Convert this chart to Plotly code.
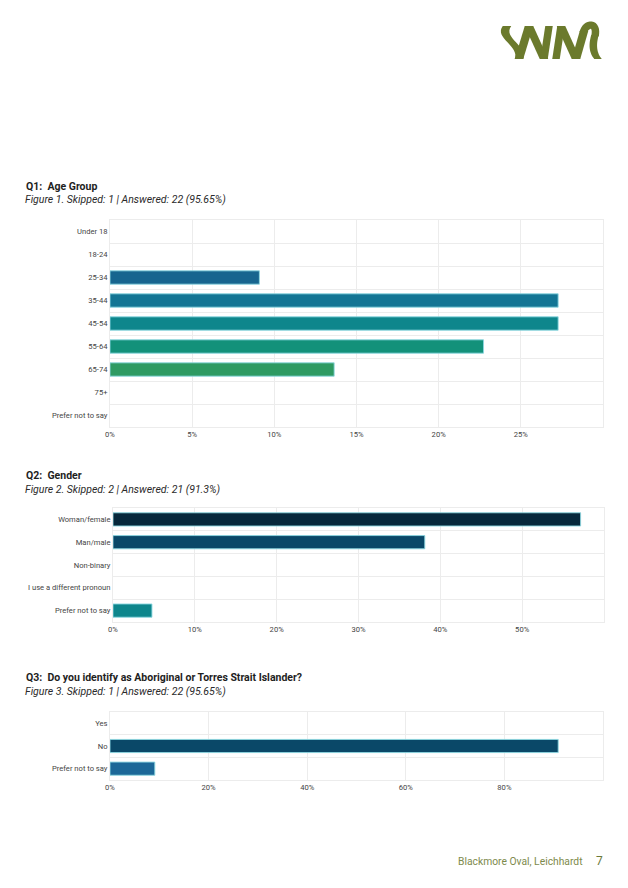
import math
import plotly.graph_objects as go

# ---------------- data ----------------
q1_categories = ["Under 18", "18-24", "25-34", "35-44", "45-54", "55-64", "65-74", "75+", "Prefer not to say"]
q1_values = [0, 0, 9.09, 27.27, 27.27, 22.73, 13.64, 0, 0]
q1_colors = ["#1a5f8c", "#1a5f8c", "#17658f", "#137594", "#0e868c", "#13917a", "#2e9a62", "#2e9a62", "#2e9a62"]
q1_ticks = [0, 5, 10, 15, 20, 25]

q2_categories = ["Woman/female", "Man/male", "Non-binary", "I use a different pronoun", "Prefer not to say"]
q2_values = [57.14, 38.10, 0, 0, 4.76]
q2_colors = ["#07283b", "#0a4868", "#0e868c", "#0e868c", "#0e868c"]
q2_ticks = [0, 10, 20, 30, 40, 50]

q3_categories = ["Yes", "No", "Prefer not to say"]
q3_values = [0, 90.91, 9.09]
q3_colors = ["#0a4868", "#0a4868", "#1c6898"]
q3_ticks = [0, 20, 40, 60, 80]

OFF = 8  # default page body margin
W, H = 628 - 2 * OFF, 888 - 2 * OFF
FONT = "Roboto, Arial, sans-serif"


def px(x):
    return (x - OFF) / W


def py(y):
    return 1 - (y - OFF) / H


fig = go.Figure()

panels = [
    (q1_categories, q1_values, q1_colors, q1_ticks, 30, (110, 603), (220, 427)),
    (q2_categories, q2_values, q2_colors, q2_ticks, 60, (113, 604), (508, 622)),
    (q3_categories, q3_values, q3_colors, q3_ticks, 100, (110, 603), (712, 780)),
]

for i, (cats, vals, cols, ticks, xmax, (x0, x1), (y0, y1)) in enumerate(panels):
    n = "" if i == 0 else str(i + 1)
    fig.add_trace(go.Bar(
        x=vals, y=cats, orientation="h",
        marker=dict(color=cols,
                    line=dict(color="rgba(140,215,225,0.9)",
                              width=[1 if v > 0 else 0 for v in vals])),
        xaxis="x" + n, yaxis="y" + n, showlegend=False, hoverinfo="x+y",
    ))
    axis_common = dict(showline=True, mirror=True, linecolor="#ececec", linewidth=1,
                       gridcolor="#ececec", gridwidth=1, zeroline=False, automargin=False,
                       tickfont=dict(family=FONT, size=7.6, color="#444"))
    fig.layout["xaxis" + n] = dict(
        axis_common, domain=[px(x0), px(x1)], range=[0, xmax],
        tickvals=ticks, ticktext=[f"{t}%" for t in ticks],
        anchor="y" + n, fixedrange=True, ticks="", ticklen=0,
    )
    fig.layout["yaxis" + n] = dict(
        axis_common, domain=[py(y1), py(y0)], type="category",
        categoryorder="array", categoryarray=cats, autorange="reversed",
        tickson="boundaries", anchor="x" + n, ticks="", ticklen=0,
        fixedrange=True,
    )

fig.update_layout(bargap=0.42)

# ---------------- text ----------------
titles = [
    ("Q1:  Age Group", "Figure 1. Skipped: 1 | Answered: 22 (95.65%)", 186, 199),
    ("Q2:  Gender", "Figure 2. Skipped: 2 | Answered: 21 (91.3%)", 475, 489),
    ("Q3:  Do you identify as Aboriginal or Torres Strait Islander?", "Figure 3. Skipped: 1 | Answered: 22 (95.65%)", 677, 691),
]
ann = []
for t, s, ty, sy in titles:
    ann.append(dict(text=f"<b>{t}</b>", x=px(24), y=py(ty), xref="paper", yref="paper",
                    xanchor="left", yanchor="middle", showarrow=False,
                    font=dict(family=FONT, size=10.5, color="#1e1e1e")))
    ann.append(dict(text=f"<i>{s}</i>", x=px(23), y=py(sy), xref="paper", yref="paper",
                    xanchor="left", yanchor="middle", showarrow=False,
                    font=dict(family=FONT, size=10.5, color="#2a2a2a")))

ann.append(dict(text="Blackmore Oval, Leichhardt", x=px(585), y=py(861), xref="paper", yref="paper",
                xanchor="right", yanchor="middle", showarrow=False,
                font=dict(family=FONT, size=10.3, color="#7d8a4c")))
ann.append(dict(text="7", x=px(605), y=py(861), xref="paper", yref="paper",
                xanchor="right", yanchor="middle", showarrow=False,
                font=dict(family=FONT, size=12, color="#6c7a3a")))

# ---------------- logo (decorative filled strokes) ----------------
def bez(p0, p1, p2, p3, n=16):
    out = []
    for k in range(n + 1):
        t = k / n
        a = (1 - t) ** 3
        b = 3 * (1 - t) ** 2 * t
        c = 3 * (1 - t) * t ** 2
        d = t ** 3
        out.append((a * p0[0] + b * p1[0] + c * p2[0] + d * p3[0],
                    a * p0[1] + b * p1[1] + c * p2[1] + d * p3[1]))
    return out


def hstroke(pts, w):
    left = [(x - w / 2, y) for x, y in pts]
    right = [(x + w / 2, y) for x, y in reversed(pts)]
    return left + right


def nstroke(pts, w):
    left, right = [], []
    for k, (x, y) in enumerate(pts):
        a = pts[max(k - 1, 0)]
        b = pts[min(k + 1, len(pts) - 1)]
        dx, dy = b[0] - a[0], b[1] - a[1]
        L = math.hypot(dx, dy) or 1
        nx, ny = -dy / L, dx / L
        left.append((x + nx * w / 2, y + ny * w / 2))
        right.append((x - nx * w / 2, y - ny * w / 2))
    return left + list(reversed(right))


def poly_path(poly):
    return "M " + " L ".join(f"{px(x):.5f},{py(y):.5f}" for x, y in poly) + " Z"


TOP, BOT = 26, 59
WD = 8.5
polys = [
    hstroke(bez((507, TOP), (498, 38), (524, 46), (519, BOT)), WD),   # wavy left stroke
    hstroke([(519, BOT), (529, TOP)], WD),
    hstroke([(529, TOP), (544, BOT)], WD),
    hstroke([(544, BOT), (549, TOP)], WD - 1),
    hstroke([(556, BOT), (561, TOP)], WD - 1),
    hstroke([(561, TOP), (576, BOT)], WD),
    hstroke([(576, BOT), (584, 31)], WD),
    nstroke(bez((583, 33), (586, 22), (598, 22), (595, 36)), 7.5),
    hstroke(bez((595, 35), (592, 45), (593, 53), (598, BOT)), 7.5),
]
logo_col = "#6b7a2c"
shapes = [dict(type="path", path=poly_path(p), xref="paper", yref="paper",
               line=dict(width=0), fillcolor=logo_col) for p in polys]

fig.update_layout(
    width=W, height=H, autosize=False,
    margin=dict(l=0, r=0, t=0, b=0),
    paper_bgcolor="white", plot_bgcolor="white",
    annotations=ann, shapes=shapes,
    font=dict(family=FONT),
)

fig.write_html("out.html", config={"displayModeBar": False})
